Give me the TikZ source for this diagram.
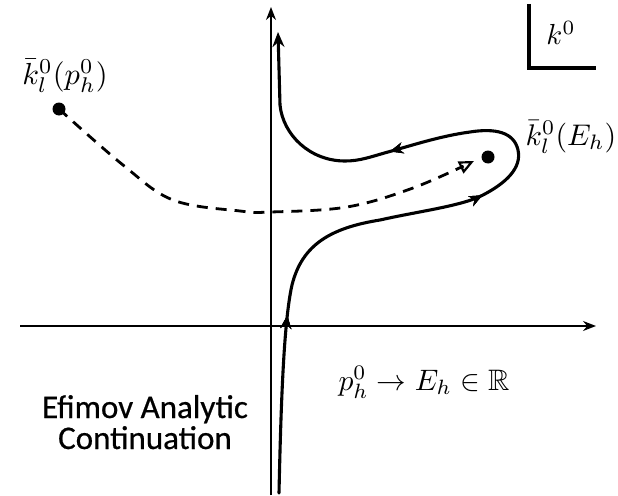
\documentclass[tikz,border=0pt]{standalone}
\usepackage{amsmath,amssymb}
\usepackage{fontspec}
\newfontfamily\calib[FakeBold=0.6]{Carlito}
\usetikzlibrary{arrows.meta,decorations.markings}
\begin{document}
\begin{tikzpicture}[x=1pt,y=-1pt,
  axis/.style={line width=1.4pt,-{Stealth[length=13pt,width=10pt]}},
  contour/.style={line width=3.1pt},
  midarrow/.style={postaction={decorate},decoration={markings,
     mark=at position #1 with {\arrow{Stealth[length=13pt,width=11pt]}}}},
  dotmark/.style={circle,fill=black,inner sep=0pt,minimum size=13pt},
  mlabel/.style={inner sep=0pt,scale=2.9},
  frame/.style={line width=3.1pt},
  eftext/.style={inner sep=0pt,anchor=base,font=\calib\fontsize{33}{36}\selectfont},
]
\useasboundingbox (0,0) rectangle (618,495);
% axes
\coordinate (xl) at (20,326);
\coordinate (xr) at (596,326);
\coordinate (yb) at (271,495);
\coordinate (yt) at (271,7);
\draw[axis] (xl) -- (xr);
\draw[axis] (yb) -- (yt);
% k0 corner
\coordinate (f1) at (529,4);
\coordinate (f2) at (529,68);
\coordinate (f3) at (596,68);
\draw[frame] (f1) -- (f2) -- (f3);
\node[mlabel] (k0) at (561,33) {$k^0$};
% contour
\coordinate (c0) at (279,493);
\coordinate (c1) at (292,285);
\coordinate (c2) at (380,220);
\coordinate (c3) at (483,195);
\coordinate (c4) at (518,150);
\coordinate (c5) at (470,132);
\coordinate (c6) at (388,152);
\coordinate (c7) at (345,161);
\coordinate (c8) at (280,105);
\coordinate (c9) at (278,32);
\draw[contour,line cap=round,midarrow/.list={0.21,0.51,0.748},-{Stealth[length=15pt,width=12pt]}]
  (c0) .. controls (281,400) and (284,320) .. (c1)
       .. controls (302,245) and (330,228) .. (c2)
       .. controls (420,211) and (462,206) .. (c3)
       .. controls (506,183) and (522,168) .. (c4)
       .. controls (514,132) and (495,128) .. (c5)
       .. controls (440,136) and (410,146) .. (c6)
       .. controls (370,157) and (360,161) .. (c7)
       .. controls (310,161) and (283,135) .. (c8)
       -- (c9);
% dots
\node[dotmark] (kE) at (488,157) {};
\node[dotmark] (kp) at (59,109) {};
% dashed
\draw[line width=2.8pt,dash pattern=on 11pt off 8pt,-{Triangle[open,length=15pt,width=13pt,line width=2.2pt]}]
  plot[smooth,tension=0.6] coordinates {(59,109) (123,165) (173,200) (240,211) (271,212) (347,207) (413,188) (474,161)};
% labels
\node[mlabel,scale=1.05] (lp) at (65,76) {$\bar k_l^0(p_h^0)$};
\node[mlabel,scale=1.03] (lE) at (571,137) {$\bar k_l^0(E_h)$};
\node[mlabel,scale=1.02,anchor=base] (lr) at (424,390) {$p_h^0\to E_h\in\mathbb{R}$};
\node[eftext] (ef1) at (145,418) {Efimov Analytic};
\node[eftext] (ef2) at (145,449) {Continuation};
\end{tikzpicture}
\end{document}
